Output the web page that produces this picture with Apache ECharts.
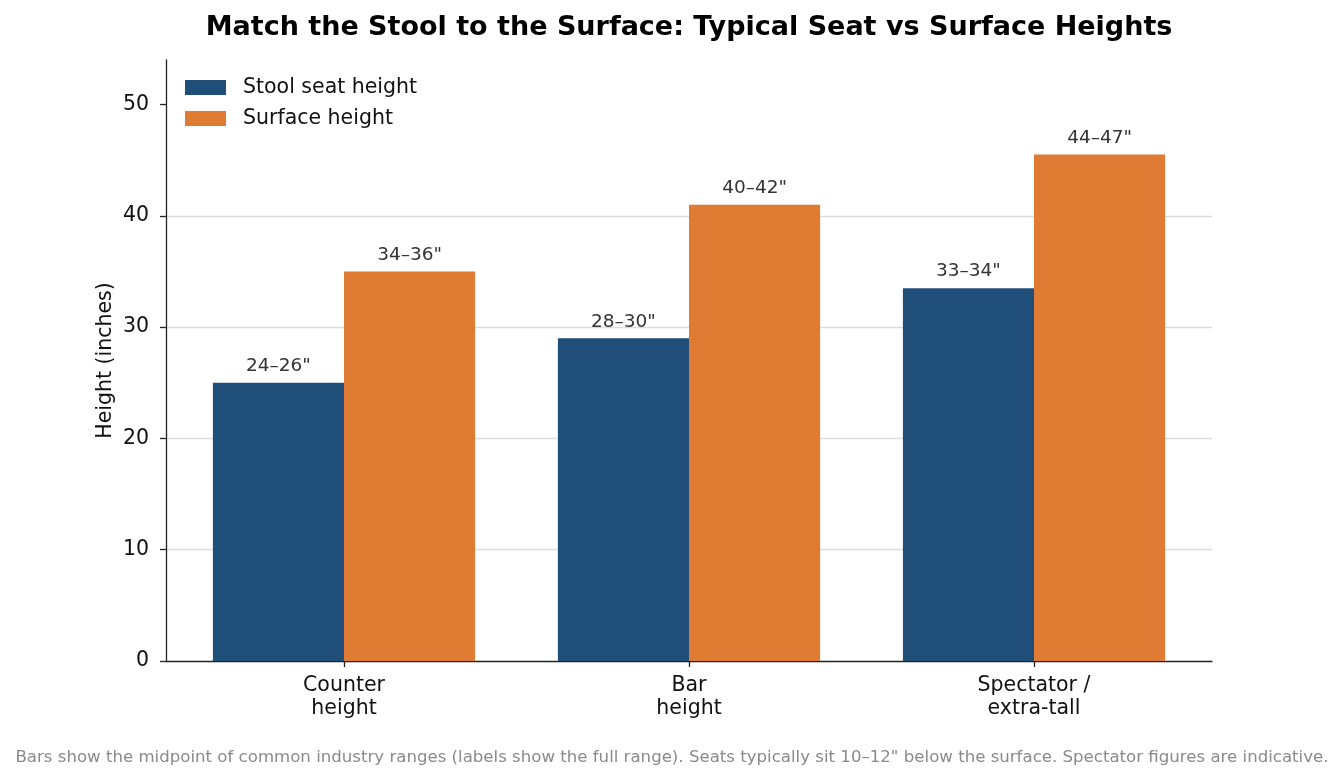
<!DOCTYPE html>
<html><head><meta charset="utf-8">
<script src="https://cdn.jsdelivr.net/npm/echarts@6/dist/echarts.min.js"></script>
<style>html,body{margin:0;padding:0;background:#fff;}#c{width:1344px;height:781px;}</style>
</head><body><div id="c"></div>
<script>
const categories = ['Counter\nheight', 'Bar\nheight', 'Spectator /\nextra-tall'];
const seatHeights = [25, 29, 33.5];
const surfaceHeights = [35, 41, 45.5];
const seatLabels = ['24–26"', '28–30"', '33–34"'];
const surfaceLabels = ['34–36"', '40–42"', '44–47"'];
const yTicks = [0, 10, 20, 30, 40, 50];
const FONT = 'DejaVu Sans';
const Y_MAX = 54;

const chart = echarts.init(document.getElementById('c'));
chart.setOption({
  animation: false,
  textStyle: { fontFamily: FONT },
  title: [{
    text: 'Match the Stool to the Surface: Typical Seat vs Surface Heights',
    left: 684, top: 9, textAlign: 'center',
    textStyle: { fontFamily: FONT, fontWeight: 'bold', fontSize: 27, color: '#000' }
  }, {
    text: 'Bars show the midpoint of common industry ranges (labels show the full range). Seats typically sit 10–12" below the surface. Spectator figures are indicative.',
    left: 667, top: 744, textAlign: 'center',
    textStyle: { fontFamily: FONT, fontWeight: 'normal', fontSize: 16.6, color: '#8a8a8a' }
  }],
  legend: {
    left: 180, top: 72, orient: 'vertical', itemWidth: 41, itemHeight: 15, itemGap: 10,
    icon: 'rect',
    textStyle: { fontFamily: FONT, fontSize: 20.5, color: '#111', padding: [0, 0, 0, 12] },
    data: ['Stool seat height', 'Surface height']
  },
  grid: [
    { left: 166, right: 132, top: 60, bottom: 120 },
    { left: 171.5, right: 137.5, top: 60, bottom: 120 }
  ],
  xAxis: [{
    gridIndex: 0, type: 'value', min: 0, max: 1,
    axisLine: { show: true, lineStyle: { color: '#222', width: 1.3 } },
    axisTick: { show: false }, axisLabel: { show: false }, splitLine: { show: false }
  }, {
    gridIndex: 1, type: 'category', data: categories,
    axisLine: { show: false },
    axisTick: { show: true, alignWithLabel: true, length: 6, lineStyle: { color: '#222', width: 1.3 } },
    axisLabel: { fontFamily: FONT, fontSize: 20.5, color: '#111', lineHeight: 23, margin: 13 }
  }],
  yAxis: [{
    gridIndex: 0, type: 'value', min: 0, max: Y_MAX, interval: 10,
    name: 'Height (inches)', nameLocation: 'middle', nameGap: 50, nameRotate: 90,
    nameMoveOverlap: false,
    nameTextStyle: { fontFamily: FONT, fontSize: 20.5, color: '#111' },
    axisLine: { show: true, lineStyle: { color: '#222', width: 1.3 } },
    axisTick: { show: true, length: 6, lineStyle: { color: '#222', width: 1.3 }, customValues: yTicks },
    axisLabel: { fontFamily: FONT, fontSize: 20.5, color: '#111', margin: 17, customValues: yTicks },
    splitLine: { show: true, showMinLine: false, showMaxLine: false, lineStyle: { color: '#dcdcdc', width: 1.3 } }
  }, {
    gridIndex: 1, type: 'value', min: 0, max: Y_MAX, interval: 10, show: false,
    splitLine: { show: false }
  }],
  series: [{
    name: 'Stool seat height', type: 'bar', data: seatHeights,
    xAxisIndex: 1, yAxisIndex: 1,
    barGap: '0%', barCategoryGap: '24%',
    itemStyle: { color: '#1f4e79' },
    label: { show: true, position: 'top', distance: 7, fontFamily: FONT, fontSize: 18.5, color: '#333',
      formatter: p => seatLabels[p.dataIndex] }
  }, {
    name: 'Surface height', type: 'bar', data: surfaceHeights,
    xAxisIndex: 1, yAxisIndex: 1,
    barGap: '0%', barCategoryGap: '24%',
    itemStyle: { color: '#e07b33' },
    label: { show: true, position: 'top', distance: 7, fontFamily: FONT, fontSize: 18.5, color: '#333',
      formatter: p => surfaceLabels[p.dataIndex] }
  }]
});
</script></body></html>
